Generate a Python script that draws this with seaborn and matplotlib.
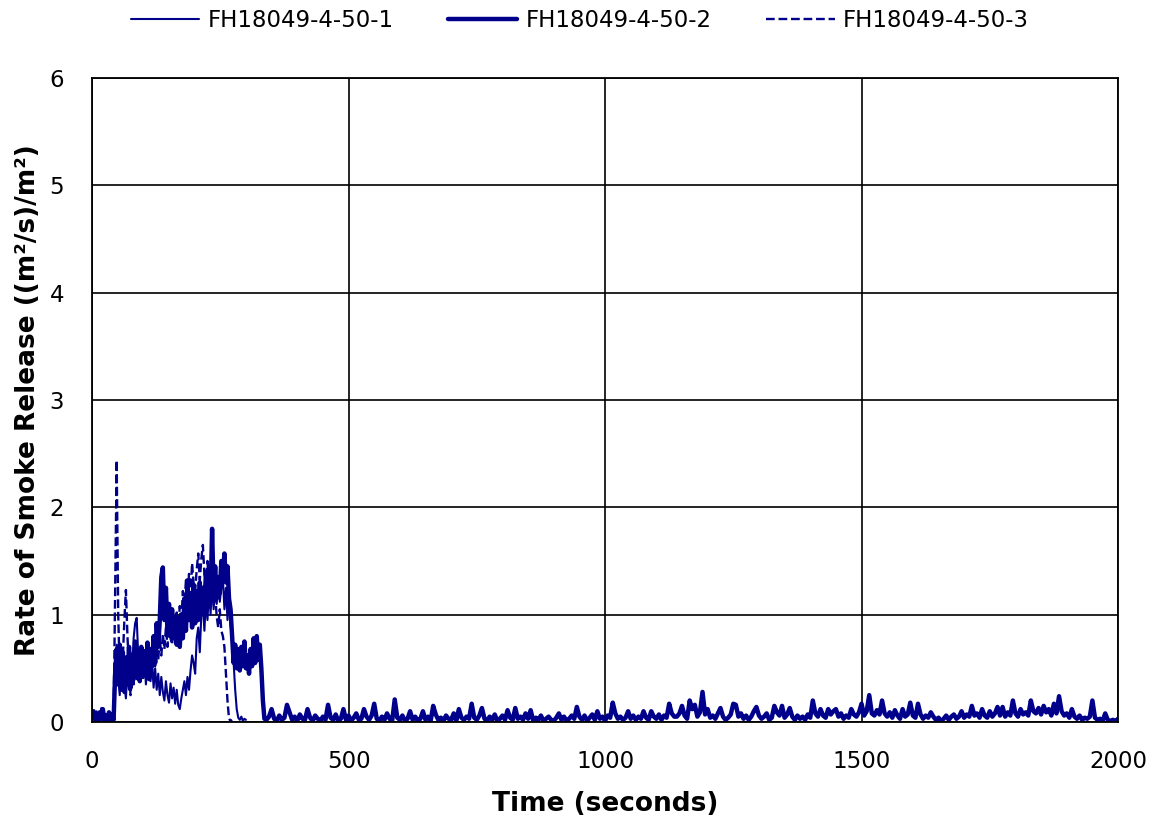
import numpy as np
import pandas as pd
import matplotlib
matplotlib.use("Agg")
import matplotlib.pyplot as plt
import seaborn as sns

# ---------------- data ----------------
series_names = ["FH18049-4-50-1", "FH18049-4-50-2", "FH18049-4-50-3"]

# early part, 3 s spacing
t_early = np.arange(0, 339, 3)  # 0 .. 336

s2_early = [0.05, 0.10, 0.02, 0.07, 0.01, 0.09, 0.03, 0.12, 0.02, 0.06, 0.01, 0.09, 0.03, 0.07, 0.02,
            0.45, 0.68, 0.35, 0.72, 0.30, 0.65, 0.28, 0.60, 0.35, 0.70, 0.32, 0.62, 0.40, 0.75, 0.45,
            0.58, 0.38, 0.70, 0.42, 0.66, 0.45, 0.74, 0.40, 0.68, 0.52, 0.80, 0.55, 0.92, 0.70,
            0.95, 1.35, 1.44, 0.95, 1.25, 0.85, 1.10, 0.80, 1.05, 0.78,
            0.98, 0.72, 0.95, 0.70, 1.00, 0.78, 1.15, 0.85, 1.32, 0.95,
            1.20, 0.88, 1.28, 0.92, 1.22, 0.95, 1.30, 1.00, 1.25, 1.05,
            1.40, 1.10, 1.45, 1.15, 1.80, 1.20, 1.45, 1.15, 1.35, 1.20,
            1.50, 1.35, 1.57, 1.30, 1.45, 1.15, 1.05, 0.80, 0.55, 0.72,
            0.50, 0.68, 0.48, 0.70, 0.52, 0.75, 0.50, 0.62, 0.45, 0.68,
            0.52, 0.78, 0.55, 0.80, 0.58, 0.72, 0.50, 0.20, 0.03]

s1_early = [0.03, 0.08, 0.01, 0.10, 0.03, 0.06, 0.13, 0.02, 0.08, 0.01, 0.06, 0.09, 0.02, 0.05, 0.07,
            0.55, 0.72, 0.40, 0.25, 0.60, 0.68, 0.35, 0.22, 0.50, 0.30, 0.65, 0.45, 0.78, 0.92, 0.97,
            0.62, 0.50, 0.70, 0.42, 0.60, 0.35, 0.55, 0.65, 0.38, 0.55, 0.32, 0.50, 0.30, 0.45,
            0.25, 0.42, 0.28, 0.20, 0.38, 0.25, 0.18, 0.36, 0.22, 0.32, 0.17, 0.30, 0.16, 0.12, 0.22,
            0.30, 0.38, 0.25, 0.42, 0.30, 0.48, 0.62, 0.55, 0.45, 0.78, 0.88, 0.65, 1.00, 1.10, 0.85,
            1.15, 0.95, 1.25, 1.00, 1.30, 1.05, 1.25, 1.10, 1.35, 1.12, 1.25, 1.35, 1.05, 1.25, 0.95,
            1.15, 0.90, 0.78, 0.55, 0.30, 0.12, 0.04, 0.02, 0.05, 0.01, 0.03, 0.02]

s3_early = [0.02, 0.04, 0.01, 0.05, 0.03, 0.02, 0.06, 0.03, 0.04, 0.02, 0.05, 0.03, 0.04, 0.02, 0.05,
            1.20, 2.44, 1.00, 0.45, 0.30, 0.60, 0.95, 1.23, 0.80, 0.50, 0.25, 0.45, 0.35, 0.55, 0.40,
            0.50, 0.62, 0.42, 0.58, 0.48, 0.62, 0.50, 0.60, 0.68, 0.48, 0.64, 0.52, 0.72, 0.58, 0.78,
            0.62, 0.82, 0.68, 0.88, 0.70, 0.92, 0.78, 0.72, 0.92, 0.82, 1.02, 0.86, 1.08, 0.92, 1.22,
            1.08, 1.32, 1.12, 1.38, 1.18, 1.48, 1.28, 1.22, 1.42, 1.57, 1.32, 1.52, 1.65, 1.38, 1.28,
            1.50, 1.32, 1.18, 1.30, 1.08, 1.20, 0.98, 0.88, 1.05, 0.85, 0.80, 0.70, 0.45, 0.20, 0.03,
            0.01, 0.02]

# long tail of test 2, 5 s spacing
t_tail = np.arange(340, 2001, 5)  # 340 .. 2000
s2_tail = [
    0.02, 0.05, 0.12, 0.03, 0.01, 0.06, 0.02, 0.04, 0.16, 0.09, 0.02, 0.05, 0.01, 0.07, 0.03, 0.02, 0.12, 0.04, 0.01, 0.06,
    0.03, 0.01, 0.05, 0.02, 0.16, 0.04, 0.02, 0.07, 0.01, 0.03, 0.12, 0.02, 0.06, 0.01, 0.04, 0.08, 0.02, 0.03, 0.12, 0.05,
    0.02, 0.06, 0.17, 0.03, 0.01, 0.05, 0.02, 0.08, 0.03, 0.01, 0.21, 0.04, 0.02, 0.06, 0.01, 0.03, 0.10, 0.02, 0.05, 0.01,
    0.03, 0.10, 0.02, 0.05, 0.01, 0.15, 0.07, 0.02, 0.04, 0.01, 0.06, 0.03, 0.02, 0.08, 0.01, 0.12, 0.04, 0.02, 0.05, 0.03,
    0.17, 0.04, 0.02, 0.06, 0.13, 0.03, 0.01, 0.05, 0.02, 0.07, 0.01, 0.03, 0.06, 0.02, 0.11, 0.04, 0.02, 0.13, 0.03, 0.05,
    0.02, 0.08, 0.03, 0.11, 0.01, 0.04, 0.02, 0.06, 0.01, 0.03, 0.05, 0.02, 0.01, 0.04, 0.08, 0.02, 0.05, 0.01, 0.03, 0.06,
    0.03, 0.14, 0.05, 0.02, 0.06, 0.01, 0.04, 0.07, 0.02, 0.10, 0.03, 0.05, 0.01, 0.06, 0.04, 0.18, 0.08, 0.03, 0.05, 0.02,
    0.04, 0.10, 0.03, 0.06, 0.02, 0.05, 0.03, 0.10, 0.04, 0.02, 0.10, 0.05, 0.03, 0.07, 0.02, 0.06, 0.04, 0.17, 0.08, 0.05,
    0.05, 0.08, 0.15, 0.06, 0.03, 0.20, 0.12, 0.16, 0.05, 0.09, 0.28, 0.07, 0.12, 0.04, 0.06, 0.03, 0.08, 0.13, 0.05, 0.02,
    0.04, 0.07, 0.17, 0.16, 0.05, 0.08, 0.03, 0.06, 0.02, 0.05, 0.10, 0.14, 0.06, 0.03, 0.05, 0.08, 0.02, 0.04, 0.15, 0.09,
    0.06, 0.15, 0.04, 0.07, 0.13, 0.05, 0.02, 0.06, 0.03, 0.05, 0.02, 0.07, 0.04, 0.20, 0.08, 0.05, 0.12, 0.06, 0.04, 0.12,
    0.07, 0.10, 0.12, 0.05, 0.08, 0.03, 0.06, 0.04, 0.12, 0.07, 0.05, 0.09, 0.17, 0.06, 0.10, 0.25, 0.08, 0.06, 0.11, 0.07,
    0.20, 0.08, 0.05, 0.09, 0.04, 0.11, 0.06, 0.03, 0.12, 0.05, 0.07, 0.18, 0.06, 0.04, 0.17, 0.07, 0.03, 0.06, 0.04, 0.09,
    0.05, 0.02, 0.04, 0.01, 0.03, 0.06, 0.02, 0.05, 0.07, 0.03, 0.05, 0.10, 0.04, 0.07, 0.05, 0.15, 0.06, 0.08, 0.04, 0.12,
    0.06, 0.04, 0.10, 0.05, 0.08, 0.14, 0.06, 0.14, 0.05, 0.09, 0.06, 0.20, 0.08, 0.05, 0.12, 0.07, 0.09, 0.06, 0.20, 0.10,
    0.08, 0.13, 0.07, 0.15, 0.09, 0.12, 0.06, 0.17, 0.08, 0.24, 0.10, 0.06, 0.08, 0.04, 0.12, 0.05, 0.03, 0.06, 0.02, 0.04,
    0.03, 0.05, 0.20, 0.04, 0.02, 0.03, 0.01, 0.08, 0.02, 0.01, 0.02, 0.01, 0.03,
]

x_ticks = [0, 500, 1000, 1500, 2000]
y_ticks = [0, 1, 2, 3, 4, 5, 6]

# ---------------- build frames ----------------
t1 = t_early[:len(s1_early)]
t3 = t_early[:len(s3_early)]
t2 = np.concatenate([t_early[:len(s2_early)], t_tail])
v2 = list(s2_early) + list(s2_tail)

df1 = pd.DataFrame({"t": t1, "v": s1_early})
df2 = pd.DataFrame({"t": t2, "v": v2})
df3 = pd.DataFrame({"t": t3, "v": s3_early})

# ---------------- plot ----------------
sns.set_style("white")
plt.rcParams["font.family"] = ["DejaVu Sans"]
plt.rcParams["text.color"] = "black"
plt.rcParams["axes.labelcolor"] = "black"

color = "#00008B"
fig = plt.figure(figsize=(11.55, 8.24), dpi=100)
ax = fig.add_axes([0.0797, 0.1238, 0.8883, 0.7815])

sns.lineplot(data=df1, x="t", y="v", ax=ax, color=color, lw=1.5, label=series_names[0], sort=False)
sns.lineplot(data=df2, x="t", y="v", ax=ax, color=color, lw=3.2, label=series_names[1], sort=False)
sns.lineplot(data=df3, x="t", y="v", ax=ax, color=color, lw=1.7, linestyle="--", dashes=(3.5, 2.2),
             label=series_names[2], sort=False)

ax.set_xlim(0, 2000)
ax.set_ylim(0, 6)
ax.set_xticks(x_ticks)
ax.set_yticks(y_ticks)
ax.grid(True, color="black", lw=1.2)
ax.set_axisbelow(True)
for sp in ax.spines.values():
    sp.set_visible(True)
    sp.set_color("black")
    sp.set_linewidth(1.3)
ax.tick_params(axis="both", length=0, labelsize=16.5, colors="black")
ax.tick_params(axis="x", pad=20)
ax.tick_params(axis="y", pad=20)

ax.set_xlabel("Time (seconds)", fontsize=19, fontweight="bold", labelpad=13, color="black")
ax.set_ylabel("Rate of Smoke Release ((m²/s)/m²)", fontsize=19, fontweight="bold", labelpad=6,
              color="black")

leg = ax.legend(loc="center", bbox_to_anchor=(0.502, 0.975), bbox_transform=fig.transFigure, ncol=3,
                frameon=False, fontsize=16.5, handlelength=3.0, columnspacing=2.4, handletextpad=0.35)
for txt in leg.get_texts():
    txt.set_color("black")

fig.savefig("out.png", dpi=100)
